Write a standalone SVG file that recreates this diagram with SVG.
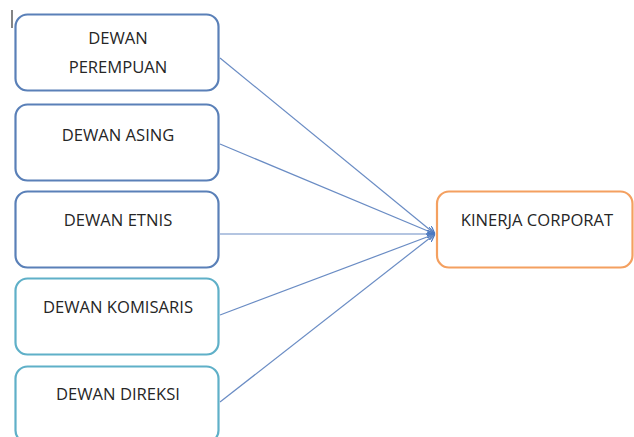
<svg xmlns="http://www.w3.org/2000/svg" width="634" height="437" viewBox="0 0 634 437">
<style>
.box{fill:#fff;stroke-width:2.2}
.blue{stroke:#5a80b8}
.teal{stroke:#5fb0c8}
.orange{stroke:#f4a060}
.t{font-family:"Open Sans","Liberation Sans",sans-serif;font-size:16.6px;fill:#262626;text-anchor:middle}
.c{fill:none;stroke:#6a8cc4;stroke-width:1.2}
</style>
<defs>
<marker id="arr" viewBox="0 0 10 10" refX="10" refY="5" markerWidth="8" markerHeight="8" orient="auto" markerUnits="userSpaceOnUse">
<path d="M0,0 L10,5 L0,10" fill="none" stroke="#4a78c0" stroke-width="1.5"/>
</marker>
</defs>
<rect width="634" height="437" fill="#fff"/>
<line x1="12" y1="10" x2="12" y2="28" stroke="#333" stroke-width="1.2"/>
<g id="connectors">
<line class="c" x1="220" y1="58" x2="435" y2="234" marker-end="url(#arr)"/>
<line class="c" x1="220" y1="144" x2="435" y2="234" marker-end="url(#arr)"/>
<line class="c" x1="220" y1="234" x2="435" y2="234" marker-end="url(#arr)"/>
<line class="c" x1="220" y1="315" x2="435" y2="234" marker-end="url(#arr)"/>
<line class="c" x1="220" y1="402" x2="435" y2="234" marker-end="url(#arr)"/>
</g>
<g id="perempuan">
<rect class="box blue" x="15.5" y="14.5" width="203" height="76" rx="12"/>
<text class="t" x="118" y="44">DEWAN</text>
<text class="t" x="118" y="73">PEREMPUAN</text>
</g>
<g id="asing">
<rect class="box blue" x="15.5" y="104.5" width="203" height="76" rx="12"/>
<text class="t" x="118" y="141">DEWAN ASING</text>
</g>
<g id="etnis">
<rect class="box blue" x="15.5" y="191.5" width="203" height="76" rx="12"/>
<text class="t" x="118" y="226">DEWAN ETNIS</text>
</g>
<g id="komisaris">
<rect class="box teal" x="15.5" y="278.5" width="203" height="76" rx="12"/>
<text class="t" x="118" y="313">DEWAN KOMISARIS</text>
</g>
<g id="direksi">
<rect class="box teal" x="15.5" y="366.5" width="203" height="76" rx="12"/>
<text class="t" x="118" y="400">DEWAN DIREKSI</text>
</g>
<g id="kinerja">
<rect class="box orange" x="437" y="191.5" width="195.5" height="76" rx="12"/>
<text class="t" x="537" y="226">KINERJA CORPORAT</text>
</g>
</svg>
